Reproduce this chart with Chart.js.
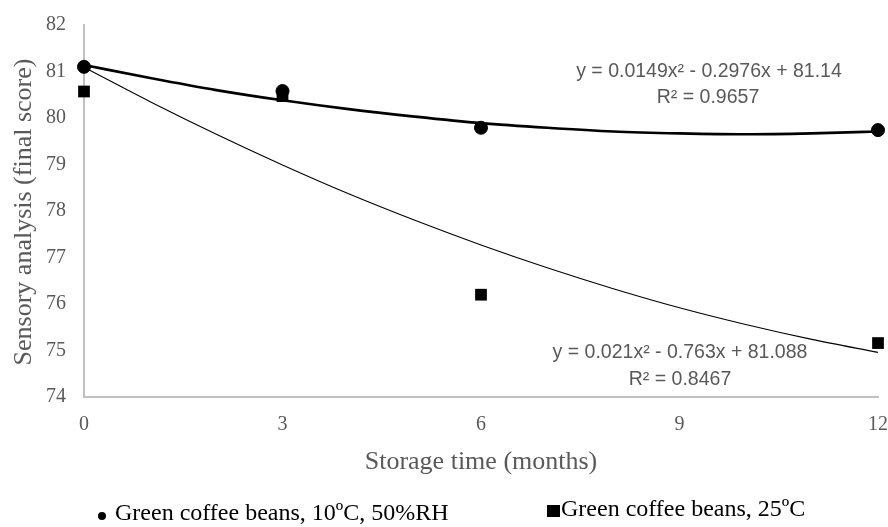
<!DOCTYPE html>
<html>
<head>
<meta charset="utf-8">
<script src="https://cdn.jsdelivr.net/npm/chart.js@4/dist/chart.umd.min.js"></script>
<style>
  html, body { margin: 0; padding: 0; background: #fff; }
  #wrap { width: 888px; height: 527px; }
</style>
</head>
<body>
<div id="wrap"><canvas id="chart" width="888" height="527"></canvas></div>
<script>
// ── Data ─────────────────────────────────────────────────────
const months       = [0, 3, 6, 12];
const cold50RH     = [81.10, 80.58, 79.79, 79.74];   // circles
const warm25C      = [80.57, 80.47, 76.20, 75.16];   // squares

// trendline values at each month
const trendMonths  = [0, 1, 2, 3, 4, 5, 6, 7, 8, 9, 10, 11, 12];
const coldTrend    = [81.14, 80.86, 80.60, 80.38, 80.19, 80.03, 79.89, 79.79, 79.71, 79.67, 79.65, 79.67, 79.71];
const warmTrend    = [81.09, 80.35, 79.65, 78.99, 78.37, 77.80, 77.27, 76.78, 76.33, 75.92, 75.56, 75.24, 74.96];

const xTicks       = [0, 3, 6, 9, 12];
const coldLabel    = 'Green coffee beans, 10ºC, 50%RH';
const warmLabel    = 'Green coffee beans, 25ºC';
const coldEq       = ['y = 0.0149x² - 0.2976x + 81.14', 'R² = 0.9657'];
const warmEq       = ['y = 0.021x² - 0.763x + 81.088', 'R² = 0.8467'];

const GREY  = '#595959';
const SERIF = '"Liberation Serif", "Times New Roman", serif';
const SANS  = '"Liberation Sans", Arial, sans-serif';

const pts = (xs, ys) => xs.map((x, i) => ({ x, y: ys[i] }));

// ── Extra text: titles, legend, equations ───────────────────
const annotations = {
  id: 'annotations',
  afterDraw(chart) {
    const { ctx, chartArea: a } = chart;
    ctx.save();
    ctx.fillStyle = GREY;
    ctx.textAlign = 'center';
    ctx.textBaseline = 'middle';

    // axis titles
    ctx.font = `26px ${SERIF}`;
    ctx.fillText('Storage time (months)', (a.left + a.right) / 2, 462);
    ctx.save();
    ctx.translate(24, 212);
    ctx.rotate(-Math.PI / 2);
    ctx.fillText('Sensory analysis (final score)', 0, 0);
    ctx.restore();

    // trendline equations
    ctx.font = `19.5px ${SANS}`;
    ctx.fillText(coldEq[0], 709, 72);
    ctx.fillText(coldEq[1], 708, 98);
    ctx.fillText(warmEq[0], 680, 353);
    ctx.fillText(warmEq[1], 680, 380);

    // legend
    ctx.fillStyle = '#000';
    ctx.textAlign = 'left';
    ctx.font = `24px ${SERIF}`;
    ctx.beginPath();
    ctx.arc(102, 516, 4, 0, Math.PI * 2);
    ctx.fill();
    ctx.fillText(coldLabel, 115, 514);
    ctx.fillRect(547, 505, 13, 12);
    ctx.fillText(warmLabel, 561, 510);
    ctx.restore();
  }
};

// ── Chart ────────────────────────────────────────────────────
new Chart(document.getElementById('chart'), {
  type: 'scatter',
  data: {
    datasets: [
      {
        label: 'cold trend', data: pts(trendMonths, coldTrend),
        showLine: true, borderColor: '#000', borderWidth: 2.6,
        pointRadius: 0, tension: 0.4, cubicInterpolationMode: 'monotone', order: 3, clip: false,
      },
      {
        label: 'warm trend', data: pts(trendMonths, warmTrend),
        showLine: true, borderColor: '#000', borderWidth: 1.1,
        pointRadius: 0, tension: 0.4, cubicInterpolationMode: 'monotone', order: 3, clip: false,
      },
      {
        label: warmLabel, data: pts(months, warm25C),
        pointStyle: 'rect', pointRadius: 8.3, borderWidth: 0, backgroundColor: '#000',
        order: 2, clip: false,
      },
      {
        label: coldLabel, data: pts(months, cold50RH),
        pointStyle: 'circle', pointRadius: 6.5, borderWidth: 1, backgroundColor: '#000', borderColor: '#000',
        order: 1, clip: false,
      },
    ],
  },
  options: {
    responsive: false,
    animation: false,
    layout: { padding: { top: 25, right: 10, left: 0, bottom: 0 } },
    plugins: { legend: { display: false }, tooltip: { enabled: false } },
    scales: {
      x: {
        type: 'linear', min: 0, max: 12,
        afterBuildTicks: s => { s.ticks = xTicks.map(v => ({ value: v })); },
        afterFit: s => { s.height = 130; s.paddingLeft = 0; s.paddingRight = 0; },
        grid: { drawOnChartArea: false, drawTicks: false },
        border: { display: true, color: '#c0c0c0', width: 2 },
        ticks: { color: GREY, padding: 16, font: { family: SERIF, size: 20 } },
      },
      y: {
        min: 74, max: 82,
        afterFit: s => { s.width = 84; s.paddingTop = 0; s.paddingBottom = 0; },
        grid: { drawOnChartArea: false, drawTicks: false },
        border: { display: true, color: '#c0c0c0', width: 2 },
        ticks: { stepSize: 1, color: GREY, padding: 18, font: { family: SERIF, size: 20 } },
      },
    },
  },
  plugins: [annotations],
});
</script>
</body>
</html>
